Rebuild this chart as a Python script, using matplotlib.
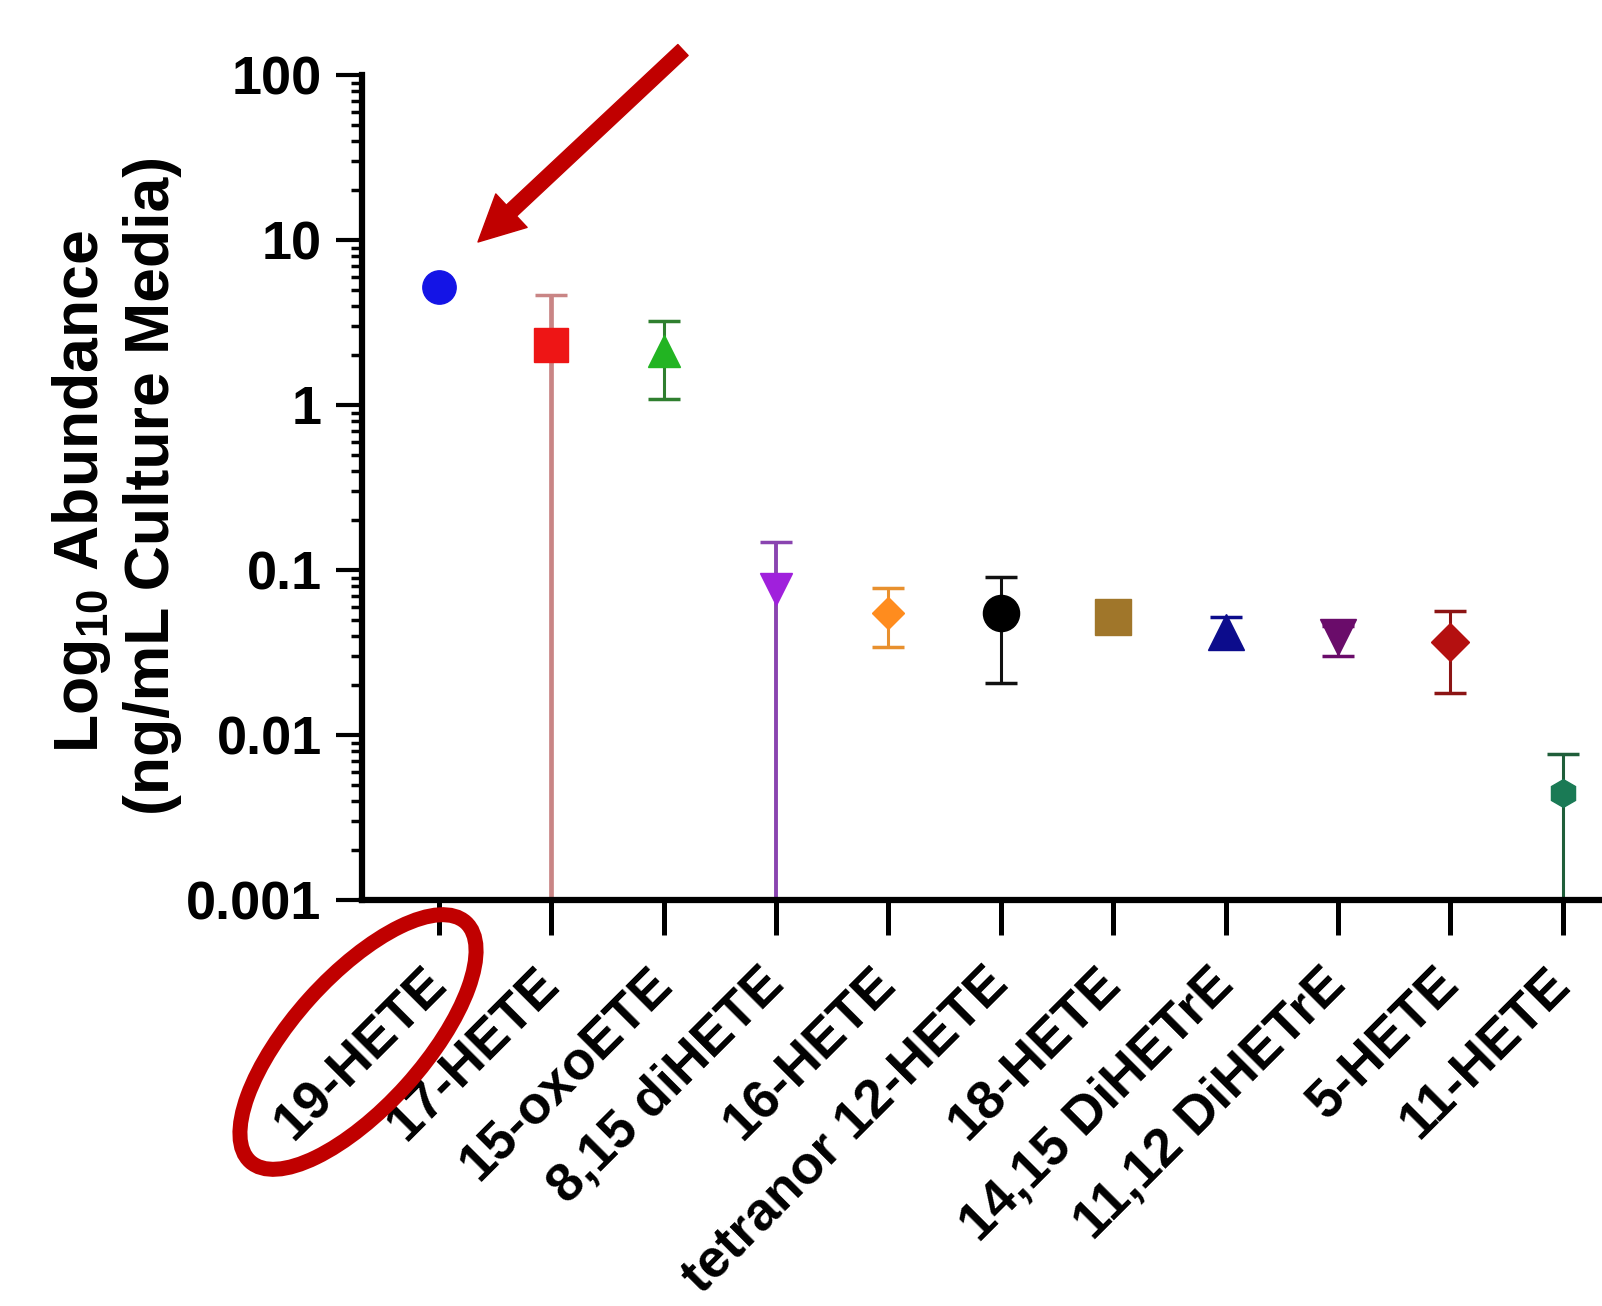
import numpy as np
import matplotlib.pyplot as plt
from matplotlib.patches import Ellipse, FancyArrowPatch
from matplotlib.ticker import LogLocator, NullFormatter

plt.rcParams['font.family'] = ['Liberation Sans', 'DejaVu Sans']
plt.rcParams['font.weight'] = 'bold'
plt.rcParams['mathtext.fontset'] = 'custom'
plt.rcParams['mathtext.rm'] = 'Liberation Sans:bold'
plt.rcParams['mathtext.bf'] = 'Liberation Sans:bold'

# eicosanoid abundance (ng/mL culture media), mean with error range
names = ['19-HETE', '17-HETE', '15-oxoETE', '8,15 diHETE', '16-HETE',
         'tetranor 12-HETE', '18-HETE', '14,15 DiHETrE', '11,12 DiHETrE',
         '5-HETE', '11-HETE']
means = [5.19, 2.31, 2.12, 0.0767, 0.0548, 0.0548, 0.0519, 0.042, 0.0393, 0.0366, 0.00445]
upper = [5.19, 4.64, 3.21, 0.147, 0.0778, 0.0908, 0.0519, 0.052, 0.046, 0.0565, 0.00767]
lower = [5.19, 0.001, 1.08, 0.001, 0.0341, 0.0207, 0.0519, 0.034, 0.0301, 0.018, 0.001]

marker_colors = ['#1414e6', '#ee1515', '#22b422', '#a020dc', '#ff8c1e', '#000000',
                 '#a0762a', '#0c0c8c', '#6a0c6a', '#b41010', '#1a7a55']
bar_colors = ['#1414e6', '#c98585', '#2f7f2f', '#8a44b0', '#e8902e', '#111111',
              '#a0762a', '#0c0c8c', '#6a0c6a', '#8c1414', '#1f5e3a']
bar_widths = [2.2, 3.4, 2.2, 2.8, 2.2, 2.2, 2.2, 2.2, 2.2, 2.2, 2.2]
markers = ['o', 's', '^', 'v', 'D', 'o', 's', '^', 'v', 'D', 'h']
msizes = [24, 24, 23, 23, 16, 26, 26, 26, 26, 19, 20]

fig = plt.figure(figsize=(16.02, 13.06), dpi=100)
ax = fig.add_axes([362/1602, 1-900/1306, 1-362/1602, (900-75)/1306])

x = np.arange(len(names))
for i in range(len(names)):
    m = means[i]
    yerr = [[m - lower[i]], [upper[i] - m]]
    ax.errorbar(x[i], m, yerr=yerr, fmt='none', ecolor=bar_colors[i],
                elinewidth=bar_widths[i], capsize=11.5, capthick=2.5, zorder=2, clip_on=False)
    ax.plot(x[i], m, marker=markers[i], ms=msizes[i], color=marker_colors[i],
            mec=marker_colors[i], linestyle='none', zorder=4, clip_on=False)

ax.set_yscale('log')
ax.set_ylim(1e-3, 100)
ax.set_yticks([1e-3, 1e-2, 1e-1, 1, 10, 100])
ax.set_yticklabels(['0.001', '0.01', '0.1', '1', '10', '100'])
ax.yaxis.set_minor_locator(LogLocator(base=10, subs=np.arange(2, 10)))
ax.yaxis.set_minor_formatter(NullFormatter())

ax.set_xlim(-0.685, 10.35)
ax.set_xticks(x)
ax.set_xticklabels(names, rotation=45, ha='right', va='center', rotation_mode='anchor')

ax.tick_params(axis='y', which='major', length=19, width=3, pad=10, labelsize=39)
ax.tick_params(axis='y', which='minor', length=8, width=2.5)
ax.tick_params(axis='x', length=25, width=3.6, pad=30, labelsize=38.5)

for s in ['top', 'right']:
    ax.spines[s].set_visible(False)
for s in ['left', 'bottom']:
    ax.spines[s].set_linewidth(4.5)

fig.text(82/1602, 1-491/1306, r'Log$_{\mathrm{10}}$ Abundance', rotation=90,
         ha='center', va='center', fontsize=45)
fig.text(153/1602, 1-485/1306, '(ng/mL Culture Media)', rotation=90,
         ha='center', va='center', fontsize=45)

# red highlight: arrow and ellipse (in inches from bottom-left)
red = '#c00000'
arrow = FancyArrowPatch((6.83, 13.06-0.50), (4.78, 13.06-2.42),
                        arrowstyle='simple,head_length=33,head_width=33,tail_width=10.8',
                        mutation_scale=1, color=red, shrinkA=0, shrinkB=0,
                        transform=fig.dpi_scale_trans)
fig.add_artist(arrow)
ell = Ellipse((3.58, 13.06-10.42), 3.22, 1.30, angle=48, fill=False,
              edgecolor=red, linewidth=10.8, transform=fig.dpi_scale_trans)
fig.add_artist(ell)

fig.savefig('out.png', dpi=100)
